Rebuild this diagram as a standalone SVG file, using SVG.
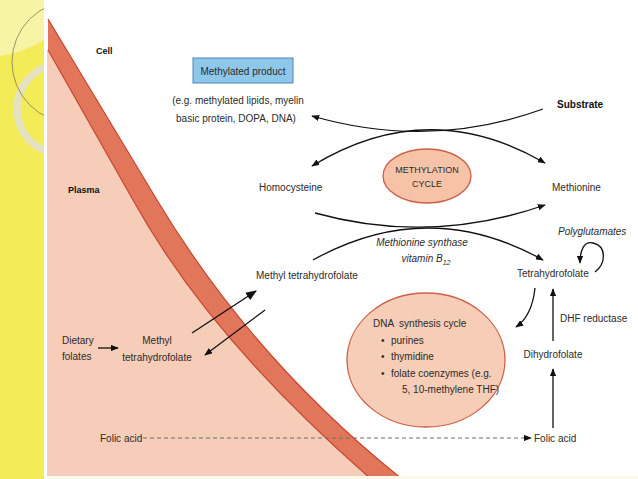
<svg xmlns="http://www.w3.org/2000/svg" width="638" height="479" viewBox="0 0 638 479">
<style>
  text { font-family: "Liberation Sans", Arial, sans-serif; font-size: 10px; fill: #2b2b2b; }
  .b { font-weight: bold; font-size: 9px; fill: #111; }
  .it { font-style: italic; }
  .mid { text-anchor: middle; }
  .conn { fill: none; stroke: #111; stroke-width: 1.3; }
  .edge { fill: none; stroke: #c8452f; stroke-width: 1.2; }
</style>
<defs>
  <marker id="ah" viewBox="0 0 10 8" refX="9" refY="4" markerWidth="8" markerHeight="6.4" orient="auto-start-reverse" markerUnits="userSpaceOnUse">
    <path d="M0,0 L10,4 L0,8 z" fill="#111"/>
  </marker>
  <marker id="ahBig" viewBox="0 0 10 8" refX="9" refY="4" markerWidth="11" markerHeight="9" orient="auto" markerUnits="userSpaceOnUse">
    <path d="M0,0 L10,4 L0,8 z" fill="#111"/>
  </marker>
  <clipPath id="strip"><rect x="0" y="0" width="44" height="479"/></clipPath>
  <clipPath id="panel"><rect x="47" y="0" width="591" height="476"/></clipPath>
</defs>

<!-- background -->
<rect x="0" y="0" width="638" height="479" fill="#fbf9ea"/>
<rect x="0" y="0" width="44" height="479" fill="#f3ec58"/>
<g clip-path="url(#strip)">
  <path d="M0,0 L44,0 L44,40 Q25,52 0,56 Z" fill="#f8f4a6"/>
  <circle cx="62" cy="109" r="45" fill="none" stroke="#e4e2c2" stroke-width="7"/>
  <circle cx="73" cy="62" r="61" fill="none" stroke="#7f7f58" stroke-width="0.8"/>
</g>
<rect x="44" y="0" width="3" height="476" fill="#ffffff"/>
<rect x="47" y="0" width="591" height="476" fill="#ffffff"/>

<!-- plasma and membrane -->
<g id="membrane" clip-path="url(#panel)">
  <path d="M47,50 L48,50 L133,200 Q209,338 371,479 L47,479 Z" fill="#f5cdb8"/>
  <path d="M48,19 L157,200 Q252.8,359.6 402,479 L371,479 Q209,338 133,200 L48,50 Z" fill="#e2765b"/>
  <path class="edge" d="M48,19 L157,200 Q252.8,359.6 402,479"/>
  <path class="edge" d="M48,50 L133,200 Q209,338 371,479"/>
</g>

<!-- labels -->
<g id="cell"><text class="b" x="96" y="54">Cell</text></g>
<g id="plasma"><text class="b" x="68" y="193">Plasma</text></g>

<g id="methylated-product">
  <rect x="193" y="58" width="100" height="25" fill="#8fc7ea" stroke="#4a86b8" stroke-width="1"/>
  <text class="mid" x="243" y="75">Methylated product</text>
  <text class="mid" x="238" y="104">(e.g. methylated lipids, myelin</text>
  <text class="mid" x="236" y="122">basic protein, DOPA, DNA)</text>
</g>

<g id="substrate"><text class="b" x="557" y="108" style="font-size:10px">Substrate</text></g>

<g id="methylation-cycle">
  <ellipse cx="427" cy="176" rx="44" ry="27" fill="#f6c3a8" stroke="#cf5e47" stroke-width="1.3"/>
  <text class="mid" x="427" y="173" style="font-size:9px">METHYLATION</text>
  <text class="mid" x="427" y="187" style="font-size:9px">CYCLE</text>
</g>

<g id="homocysteine"><text x="259" y="191">Homocysteine</text></g>
<g id="methionine"><text x="552" y="191">Methionine</text></g>

<g id="methionine-synthase">
  <text class="mid it" x="422" y="246">Methionine synthase</text>
  <text class="mid it" x="426" y="262">vitamin B<tspan dy="3" style="font-size:7px">12</tspan></text>
</g>

<g id="methyl-thf-cell"><text x="256" y="279">Methyl tetrahydrofolate</text></g>
<g id="polyglutamates"><text class="it" x="558" y="235">Polyglutamates</text></g>
<g id="thf"><text x="517" y="277">Tetrahydrofolate</text></g>
<g id="dhf-reductase"><text x="560" y="322">DHF reductase</text></g>
<g id="dihydrofolate"><text class="mid" x="553" y="358">Dihydrofolate</text></g>

<g id="dna-synthesis-cycle">
  <ellipse cx="426" cy="360" rx="79" ry="67" fill="#f6cdb6" stroke="#cf5e47" stroke-width="1.3"/>
  <text x="373" y="327" xml:space="preserve">DNA  synthesis cycle</text>
  <text x="381" y="344">•</text><text x="391" y="344">purines</text>
  <text x="381" y="360">•</text><text x="391" y="360">thymidine</text>
  <text x="381" y="377">•</text><text x="391" y="377">folate coenzymes (e.g.</text>
  <text x="402" y="393">5, 10-methylene THF)</text>
</g>

<g id="dietary-folates">
  <text x="62" y="344">Dietary</text>
  <text x="62" y="360">folates</text>
</g>
<g id="methyl-thf-plasma">
  <text class="mid" x="157" y="344">Methyl</text>
  <text class="mid" x="157" y="361">tetrahydrofolate</text>
</g>

<g id="folic-acid-plasma"><text x="100" y="442">Folic acid</text></g>
<g id="folic-acid-cell"><text x="534" y="442">Folic acid</text></g>

<!-- connectors -->
<g id="connectors">
  <path class="conn" d="M543,109 Q430,150 312,116" marker-end="url(#ah)"/>
  <path class="conn" d="M312,166 Q428,95 545,163" marker-start="url(#ah)" marker-end="url(#ah)"/>
  <path class="conn" d="M315,213 Q430,245 545,205" marker-end="url(#ah)"/>
  <path class="conn" d="M313,260 Q428,196 543,260" marker-end="url(#ah)"/>
  <path class="conn" d="M595,272 C606,264 607,246 593,243 C584,241 580,250 580,263" marker-end="url(#ah)" stroke-width="1.1"/>
  <path class="conn" d="M535,288 Q532,316 516,327" marker-end="url(#ah)" stroke-width="1.1"/>
  <path class="conn" d="M553,341 L553,289" marker-end="url(#ah)" stroke-width="1"/>
  <path class="conn" d="M553,428 L553,369" marker-end="url(#ah)" stroke-width="1"/>
  <path class="conn" d="M98,348 L118,348" marker-end="url(#ah)" stroke-width="1.1"/>
  <path class="conn" d="M192,333 L256,291" marker-end="url(#ahBig)" stroke-width="2.4"/>
  <path class="conn" d="M265,310 L205,355" marker-end="url(#ah)" stroke-width="0.9"/>
  <path d="M143,438 L531,438" fill="none" stroke="#6f6f6f" stroke-width="1" stroke-dasharray="4 3" marker-end="url(#ah)"/>
</g>
</svg>
